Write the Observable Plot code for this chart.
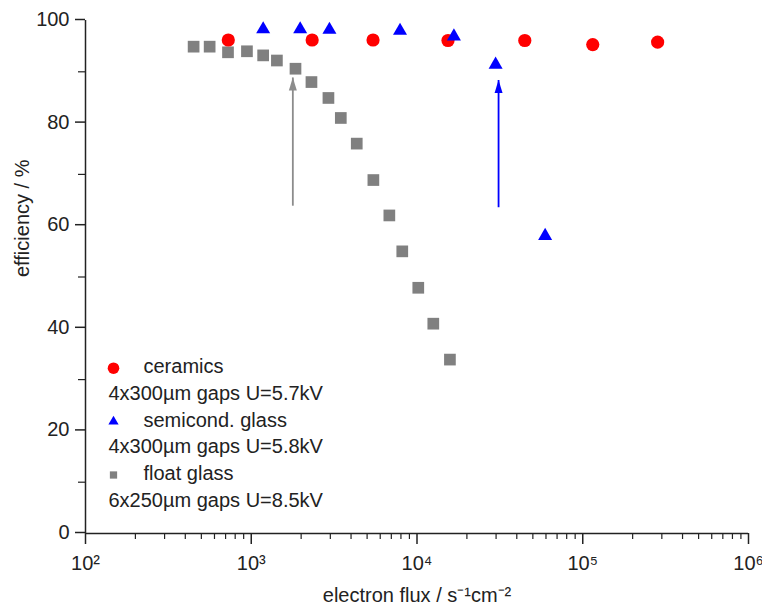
<!DOCTYPE html>
<html>
<head>
<meta charset="utf-8">
<script src="https://cdn.jsdelivr.net/npm/d3@7"></script>
<script src="https://cdn.jsdelivr.net/npm/@observablehq/plot@0.6"></script>
<style>
  html, body { margin: 0; padding: 0; background: white; }
  #chart { width: 762px; height: 610px; }
</style>
</head>
<body>
<div id="chart"></div>
<script>
// ---- data ----
const ceramicsFlux = [727, 2330, 5430, 15380, 44700, 114900, 283000];
const ceramicsEff  = [96.2, 96.2, 96.2, 96.1, 96.1, 95.3, 95.8];

const semicondFlux = [1180, 1973, 2963, 7900, 16700, 29800, 59300];
const semicondEff  = [98.3, 98.3, 98.2, 98.0, 96.9, 91.4, 58.0];

const floatFlux = [449, 561, 724, 942, 1180, 1428, 1849, 2308, 2922, 3470, 4330, 5455, 6810, 8150, 10180, 12540, 15800];
const floatEff  = [94.9, 94.9, 93.8, 94.0, 93.2, 92.2, 90.6, 88.0, 84.9, 81.0, 76.0, 68.9, 62.0, 55.0, 47.9, 40.9, 33.9];

// arrows: [flux, efficiency from, efficiency to]
const arrowFlux = [1782, 31050];
const arrowFrom = [63.9, 63.6];
const arrowTo   = [88.9, 88.4];
const arrowColors = ["#8c8c8c", "#0000ff"];

const seriesNames = ["ceramics", "semicond. glass", "float glass"];
const seriesNotes = ["4x300\u00b5m gaps U=5.7kV", "4x300\u00b5m gaps U=5.8kV", "6x250\u00b5m gaps U=8.5kV"];
const seriesColors = ["#ff0000", "#0000ff", "#808080"];
const seriesSymbols = ["circle", "triangle", "square"];

const xMajorTicks = [1e2, 1e3, 1e4, 1e5, 1e6];
const yMajorTicks = [0, 20, 40, 60, 80, 100];
const yMinorTicks = [10, 30, 50, 70, 90];
const xLabel = "electron flux / s\u207b\u00b9cm\u207b\u00b2";
const yLabel = "efficiency / %";

// ---- build ----
const zip = (xs, ys) => xs.map((x, i) => ({x, y: ys[i]}));
const ceramics = zip(ceramicsFlux, ceramicsEff);
const semicond = zip(semicondFlux, semicondEff);
const floatg = zip(floatFlux, floatEff);
const arrows = arrowFlux.map((x, i) => ({x, y1: arrowFrom[i], y2: arrowTo[i], c: arrowColors[i]}));

const xMinorTicks = [];
for (let e = 2; e < 6; e++) for (let m = 2; m <= 9; m++) xMinorTicks.push(m * Math.pow(10, e));

const sup = {2: "\u00b2", 3: "\u00b3", 4: "\u2074", 5: "\u2075", 6: "\u2076"};

const arrowHead = {
  draw(ctx) {
    ctx.moveTo(0, 0);
    ctx.lineTo(-4, 13);
    ctx.lineTo(4, 13);
    ctx.closePath();
  }
};

const legendMarks = [];
const legendR = [5.8, 3.8, 4.1];
const rowH = 26.7;
const legendTop = -165.3;
const textShift = 5;
seriesNames.forEach((name, i) => {
  const dy0 = legendTop + 2 * i * rowH;
  legendMarks.push(
    Plot.dot([0], {frameAnchor: "bottom-left", dx: 28, dy: dy0, r: legendR[i], symbol: seriesSymbols[i], fill: seriesColors[i], stroke: "none"}),
    Plot.text([name], {frameAnchor: "bottom-left", dx: 58, dy: dy0 + textShift, text: d => d, textAnchor: "start", fontSize: 20, fill: "#222"}),
    Plot.text([seriesNotes[i]], {frameAnchor: "bottom-left", dx: 23, dy: dy0 + rowH + textShift, text: d => d, textAnchor: "start", fontSize: 20, fill: "#222"})
  );
});

const chart = Plot.plot({
  width: 762,
  height: 610,
  marginLeft: 85,
  marginRight: 14,
  marginTop: 20,
  marginBottom: 77,
  x: {type: "log", domain: [1e2, 1e6], label: null},
  y: {domain: [0, 100], label: null},
  style: {fontFamily: "'Liberation Sans', Arial, sans-serif", fontSize: "20px", background: "white", color: "#222", overflow: "visible"},
  marks: [
    Plot.ruleY([0], {stroke: "#222", strokeWidth: 1.5}),
    Plot.ruleX([1e2], {stroke: "#222", strokeWidth: 1.5}),
    Plot.axisX(xMajorTicks, {tickSize: 11, tickPadding: 11, strokeWidth: 1.5, fontSize: 20, tickFormat: d => "10" + sup[Math.round(Math.log10(d))]}),
    Plot.axisX(xMinorTicks, {tickSize: 6, strokeWidth: 1.2, tickFormat: () => ""}),
    Plot.axisY(yMajorTicks, {tickSize: 10, tickPadding: 6, strokeWidth: 1.5, fontSize: 20, dy: -1}),
    Plot.axisY(yMinorTicks, {tickSize: 7, strokeWidth: 1.2, tickFormat: () => ""}),
    Plot.text([yLabel], {frameAnchor: "left", dx: -63, rotate: -90, text: d => d, fontSize: 20, fill: "#222"}),
    Plot.text([xLabel], {frameAnchor: "bottom", dy: 68, text: d => d, fontSize: 20, fill: "#222"}),
    // arrows
    Plot.link(arrows, {x1: "x", x2: "x", y1: "y1", y2: "y2", stroke: "c", strokeWidth: 1.8}),
    Plot.dot(arrows, {x: "x", y: "y2", symbol: arrowHead, fill: "c", stroke: "none"}),
    // data
    Plot.dot(floatg, {x: "x", y: "y", symbol: "square", r: 6.6, fill: seriesColors[2], stroke: "none"}),
    Plot.dot(ceramics, {x: "x", y: "y", symbol: "circle", r: 6.6, fill: seriesColors[0], stroke: "none"}),
    Plot.dot(semicond, {x: "x", y: "y", symbol: "triangle", r: 5.2, fill: seriesColors[1], stroke: "none"}),
    ...legendMarks
  ]
});
document.getElementById("chart").appendChild(chart);
</script>
</body>
</html>
